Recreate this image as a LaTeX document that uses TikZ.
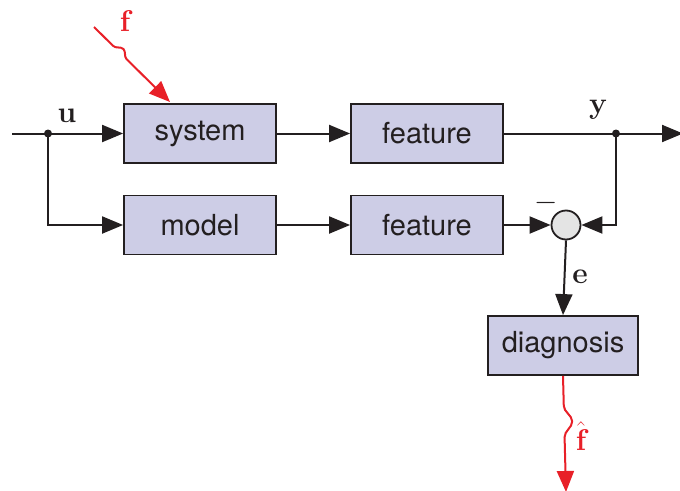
\RequirePackage{fix-cm}
\documentclass[tikz,border=0pt]{standalone}
\usepackage{fontspec}
\usepackage{amsmath}
\newfontfamily\blockfont{TeX Gyre Heros}
\usetikzlibrary{arrows.meta,decorations.pathmorphing}

\definecolor{blockfill}{RGB}{205,205,230}
\definecolor{sumfill}{RGB}{228,228,228}
\definecolor{ink}{RGB}{35,31,32}
\definecolor{fault}{RGB}{232,32,40}

\tikzset{
  blk/.style={draw=ink, line width=1.8pt, fill=blockfill, minimum width=152pt,
    minimum height=59pt, inner sep=0pt, font=\blockfont\fontsize{29}{33}\selectfont, text=ink},
  sumnode/.style={circle, draw=ink, line width=1.8pt, fill=sumfill, minimum size=29pt, inner sep=0pt},
  wire/.style={draw=ink, line width=2pt},
  sig/.style={wire, -{Triangle[length=21pt, width=17pt]}},
  faultsig/.style={draw=fault, line width=2pt, -{Triangle[length=21pt, width=17pt]}},
  lbl/.style={font=\rmfamily\bfseries\fontsize{30}{34}\selectfont, text=ink, inner sep=0pt},
  flbl/.style={font=\rmfamily\bfseries\fontsize{30}{34}\selectfont, text=fault, inner sep=0pt},
  junction/.style={circle, fill=ink, minimum size=8pt, inner sep=0pt},
}

\begin{document}
\begin{tikzpicture}[x=1pt, y=-1pt]
  \useasboundingbox (0,0) rectangle (680,490);

  % blocks
  \node[blk] (sys)   at (200,133.5) {system};
  \node[blk] (feat1) at (427,133.5) {feature};
  \node[blk] (mod)   at (200,225)   {model};
  \node[blk] (feat2) at (427,225)   {feature};
  \node[blk, minimum width=150pt] (diag) at (563,345.5) {diagnosis};
  \node[sumnode] (sum) at (566,225) {};

  % branch points and free ends
  \coordinate (in)  at (12,133.5);
  \node[junction] (u) at (48,133.5) {};
  \node[junction] (ydot) at (616,133.5) {};
  \coordinate (out) at (683,133.5);
  \coordinate (fstart) at (94,27);
  \coordinate (fend) at (170,102);
  \coordinate (fhend) at (566,492);

  % signal lines
  \draw[sig] (in) -- (sys.west);
  \draw[sig] (u.center) |- (mod.west);
  \draw[sig] (sys.east) -- (feat1.west);
  \draw[sig] (mod.east) -- (feat2.west);
  \draw[sig] (feat1.east) -- (out);
  \draw[sig] (ydot.center) |- (sum.east);
  \draw[sig] (feat2.east) -- (sum.west);
  \draw[sig] (sum.south) -- (diag.north);

  % fault input and fault estimate
  \draw[faultsig, decoration={snake, amplitude=5pt, segment length=30pt,
      pre length=27pt, post length=50pt}, decorate] (fstart) -- (fend);
  \draw[faultsig, decoration={snake, amplitude=8pt, segment length=50pt,
      pre length=30pt, post length=37pt}, decorate] (diag.south) -- (fhend);

  % labels
  \node[lbl]  (ul) at (67,116)  {u};
  \node[lbl]  (yl) at (598,110) {y};
  \node[lbl]  (el) at (580,277) {e};
  \node[lbl]  (ml) at (546,203) {$-$};
  \node[flbl] (fl) at (125,21)  {f};
  \node[flbl] (fhl) at (581,436) {$\hat{\text{f}}$};
\end{tikzpicture}
\end{document}
